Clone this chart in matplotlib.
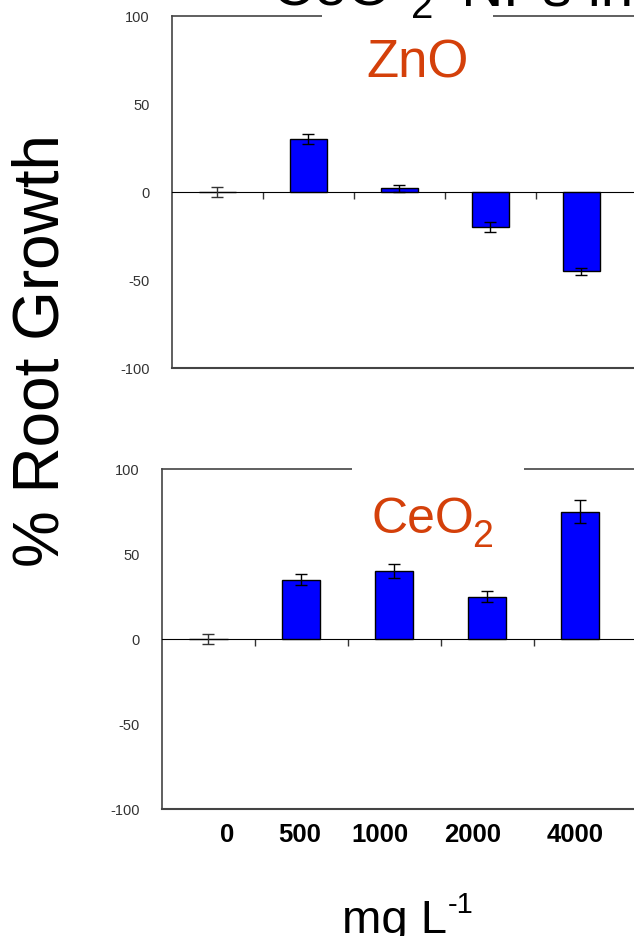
#Root growth bar charts for ZnO and CeO2 NPs
import numpy as np
import matplotlib.pyplot as plt
from matplotlib.patches import Rectangle

plt.rcParams['font.family'] = ['Liberation Sans', 'DejaVu Sans']
plt.rcParams['axes.unicode_minus'] = False

Doses = ['0', '500', '1000', '2000', '4000']

ZnOGrowth = [0, 30, 2, -20, -45]
ZnOErr = [3, 3, 2, 3, 2]

CeO2Growth = [0, 35, 40, 25, 75]
CeO2Err = [3, 3, 4, 3, 7]

BarColor = '#0000FF'
LabelColor = '#D4400A'
SpineColor = '#444444'

fig = plt.figure(figsize=(6.34, 9.37), dpi=100)

W, H = 634.0, 937.0

def make_panel(rect, values, errs):
    ax = fig.add_axes(rect)
    x = np.arange(len(values))
    ax.bar(x, values, width=0.41, color=BarColor, edgecolor='black', linewidth=1, zorder=3)
    ecol = ['#333333' if v == 0 else 'black' for v in values]
    for xi, v, e, c in zip(x, values, errs, ecol):
        ax.errorbar(xi, v, yerr=e, fmt='none', ecolor=c, elinewidth=1, capsize=4.3, capthick=1, zorder=4)
    ax.set_xlim(-0.5, len(values) - 0.4)
    ax.set_ylim(-100, 100)
    ax.set_yticks([-100, -50, 0, 50, 100])
    ax.tick_params(axis='y', length=0, pad=16, labelsize=10.5, labelcolor='#333333')
    #x axis sits on the zero line, ticks between groups
    ax.spines['bottom'].set_position(('data', 0))
    ax.spines['bottom'].set_color('black')
    ax.set_xticks(x[:-1] + 0.5)
    ax.set_xticklabels([])
    ax.tick_params(axis='x', direction='out', length=5, width=1, color='#333333')
    ax.spines['right'].set_visible(False)
    for s in ['left', 'top']:
        ax.spines[s].set_color(SpineColor)
        ax.spines[s].set_linewidth(1.2)
    ax.axhline(-100, color=SpineColor, linewidth=1.5, clip_on=False, zorder=5)
    return ax

ax1 = make_panel([172/W, 1-369/H, 464/W, 352/H], ZnOGrowth, ZnOErr)
ax2 = make_panel([162/W, 1-810/H, 474/W, 340/H], CeO2Growth, CeO2Err)

#dose labels under the lower panel (placed by hand in the original)
label_shift = [0.2, -0.02, -0.16, -0.16, -0.06]
for i, (d, sh) in enumerate(zip(Doses, label_shift)):
    ax2.text(i + sh, -0.075, d, transform=ax2.get_xaxis_transform(), ha='center', va='center',
             fontsize=18.5, fontweight='bold')

#white boxes of the original slide hiding parts of the top spines
fig.patches.append(Rectangle((322/W, 1-23/H), (493-322)/W, 12/H, transform=fig.transFigure,
                             facecolor='white', edgecolor='none', zorder=2))
fig.patches.append(Rectangle((352/W, 1-476/H), (524/W - 352/W), 12/H, transform=fig.transFigure,
                             facecolor='white', edgecolor='none', zorder=2))

#title, mostly above the cropped picture
fig.text(272/W, 1-5/H, 'CeO', fontsize=42, ha='left', va='baseline', zorder=3)
fig.text(411/W, 1-18/H, '2', fontsize=29, ha='left', va='baseline', zorder=3)
fig.text(445/W, 1-5/H, ' NPs in', fontsize=42, ha='left', va='baseline', zorder=3)

fig.text(418/W, 1-78/H, 'ZnO', fontsize=38, color=LabelColor, ha='center', va='baseline', zorder=3)
fig.text(371/W, 1-533/H, 'CeO', fontsize=36, color=LabelColor, ha='left', va='baseline', zorder=3)
fig.text(472/W, 1-547/H, '2', fontsize=27, color=LabelColor, ha='left', va='baseline', zorder=3)

fig.text(42/W, 1-351/H, '% Root Growth', fontsize=46, rotation=90, ha='center', va='center')
fig.text(342/W, 1-933/H, 'mg L', fontsize=34, ha='left', va='baseline')
fig.text(448/W, 1-913/H, '-1', fontsize=21, ha='left', va='baseline')

plt.savefig('out.png', dpi=100)
plt.close()
